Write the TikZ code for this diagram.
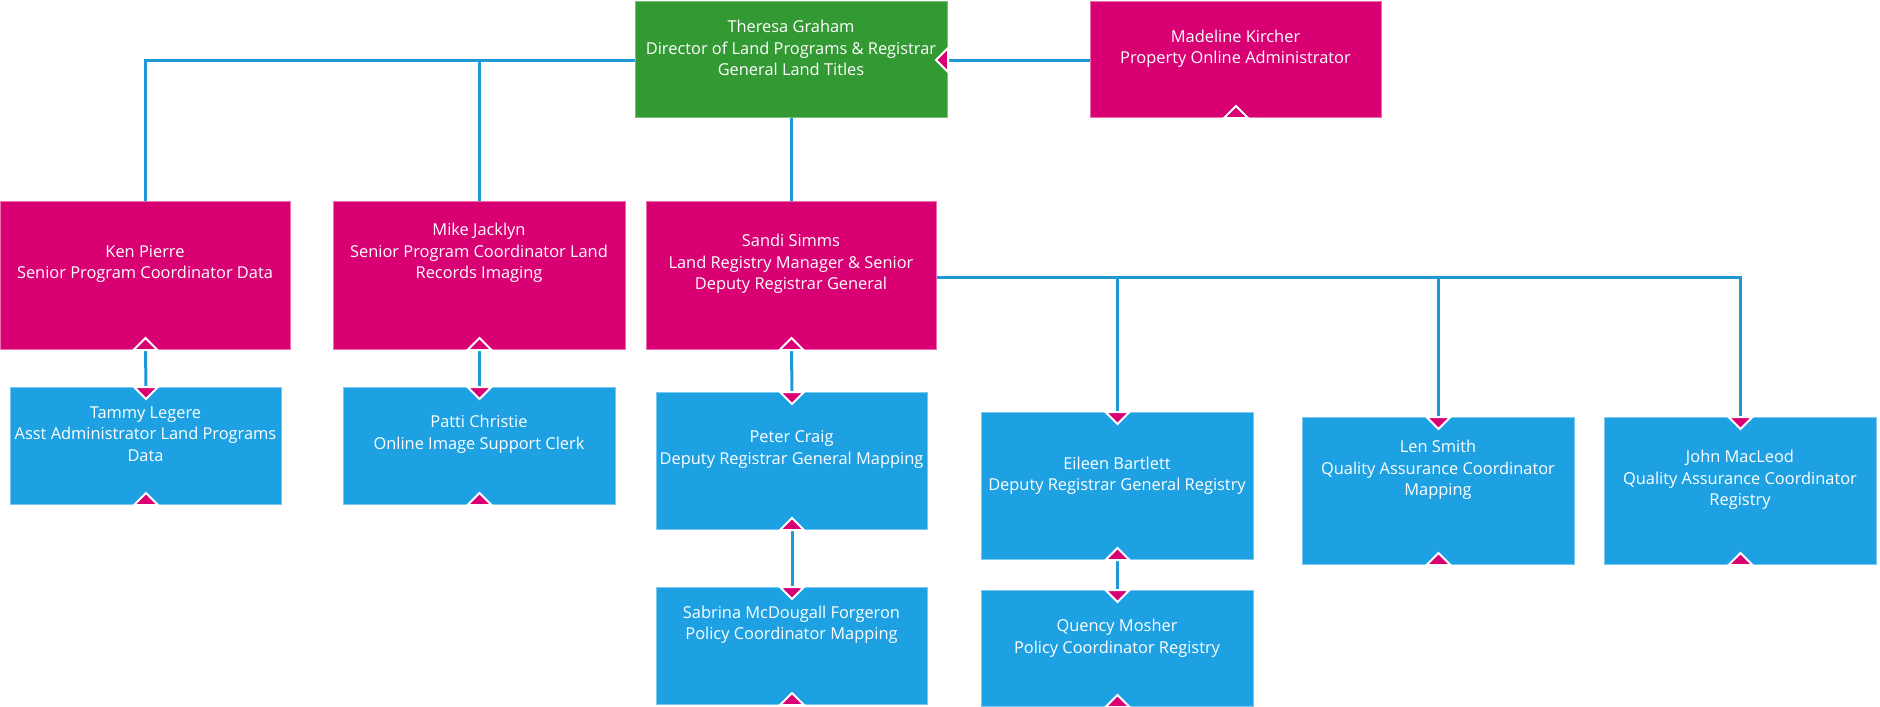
\documentclass[tikz,border=0pt]{standalone}
\usepackage{fontspec}
\setmainfont{Open Sans}
\usetikzlibrary{calc}
\definecolor{cgreen}{RGB}{51,153,51}
\definecolor{cgreenb}{RGB}{120,190,120}
\definecolor{cpink}{RGB}{216,0,115}
\definecolor{cpinkb}{RGB}{236,110,175}
\definecolor{cblue}{RGB}{30,161,226}
\definecolor{cblueb}{RGB}{120,200,240}
\definecolor{cline}{RGB}{30,152,214}
\tikzset{
  box/.style={rectangle, inner sep=0pt, anchor=north west, line width=1pt},
  greenbox/.style={box, fill=cgreen, draw=cgreenb},
  pinkbox/.style={box, fill=cpink, draw=cpinkb},
  bluebox/.style={box, fill=cblue, draw=cblueb},
  txt/.style={text=white, align=center, inner sep=0pt, font=\fontsize{16.4}{21.5}\selectfont},
  conn/.style={draw=cline, line width=3pt},
  marker/.style={fill=cpink, draw=white, line width=2pt, line join=miter},
}
\newcommand\upmark[1]{\filldraw[marker] ($(#1.south)+(-12,0)$) -- ($(#1.south)+(0,-12)$) -- ($(#1.south)+(12,0)$) -- cycle;}
\newcommand\downmark[1]{\filldraw[marker] ($(#1.north)+(-12,0)$) -- ($(#1.north)+(0,12)$) -- ($(#1.north)+(12,0)$) -- cycle;}
\begin{document}
\begin{tikzpicture}[x=1pt,y=-1pt]
\useasboundingbox (0,0) rectangle (1880,707);
% boxes
\node[greenbox, minimum width=312, minimum height=116] (th) at (635,1) {};
\node[pinkbox, minimum width=291, minimum height=116] (ma) at (1090,1) {};
\node[pinkbox, minimum width=290, minimum height=148] (ke) at (0,201) {};
\node[pinkbox, minimum width=292, minimum height=148] (mi) at (333,201) {};
\node[pinkbox, minimum width=290, minimum height=148] (sa) at (646,201) {};
\node[bluebox, minimum width=271, minimum height=117] (ta) at (10,387) {};
\node[bluebox, minimum width=272, minimum height=117] (pa) at (343,387) {};
\node[bluebox, minimum width=271, minimum height=137] (pe) at (656,392) {};
\node[bluebox, minimum width=271, minimum height=117] (sb) at (656,587) {};
\node[bluebox, minimum width=272, minimum height=147] (ei) at (981,412) {};
\node[bluebox, minimum width=272, minimum height=116] (qu) at (981,590) {};
\node[bluebox, minimum width=272, minimum height=147] (le) at (1302,417) {};
\node[bluebox, minimum width=272, minimum height=147] (jo) at (1604,417) {};
% texts
\node[txt] (th-t) at (791,48) {Theresa Graham\\Director of Land Programs \& Registrar\\General Land Titles};
\node[txt] (ma-t) at (1235.5,48.5) {Madeline Kircher\\Property Online Administrator};
\node[txt] (ke-t) at (145,264) {Ken Pierre\\Senior Program Coordinator Data};
\node[txt] (mi-t) at (479,253) {Mike Jacklyn\\Senior Program Coordinator Land\\Records Imaging};
\node[txt] (sa-t) at (791,264) {Sandi Simms\\Land Registry Manager \& Senior\\Deputy Registrar General};
\node[txt] (ta-t) at (145.5,434) {Tammy Legere\\Asst Administrator Land Programs\\Data};
\node[txt] (pa-t) at (479,434) {Patti Christie\\Online Image Support Clerk};
\node[txt] (pe-t) at (791.5,449.5) {Peter Craig\\Deputy Registrar General Mapping};
\node[txt] (sb-t) at (791.5,624.5) {Sabrina McDougall Forgeron\\Policy Coordinator Mapping};
\node[txt] (ei-t) at (1117,475.5) {Eileen Bartlett\\Deputy Registrar General Registry};
\node[txt] (qu-t) at (1117,638) {Quency Mosher\\Policy Coordinator Registry};
\node[txt] (le-t) at (1438,470) {Len Smith\\Quality Assurance Coordinator\\Mapping};
\node[txt] (jo-t) at (1740,480) {John MacLeod\\Quality Assurance Coordinator\\Registry};
% connectors
\coordinate (topbus) at (th.west |- 0,60);
\draw[conn] (ke.north) -- (ke.north |- topbus) -- (topbus);
\draw[conn] (mi.north) -- (mi.north |- topbus);
\draw[conn] (th.south) -- (sa.north);
\draw[conn] (ma.west |- topbus) -- (th.east |- topbus);
\coordinate (sabus) at (sa.east |- 0,277);
\draw[conn] (sabus) -- (sabus -| jo.north) -- (jo.north);
\draw[conn] (ei.north |- sabus) -- (ei.north);
\draw[conn] (le.north |- sabus) -- (le.north);
\draw[conn] (ke.south) -- (ta.north);
\draw[conn] (mi.south) -- (pa.north);
\draw[conn] (sa.south) -- (pe.north);
\draw[conn] (pe.south) -- (sb.north);
\draw[conn] (ei.south) -- (qu.north);
% markers
\foreach \n in {ma,ke,mi,sa,ta,pa,pe,sb,ei,qu,le,jo} {\upmark{\n}}
\foreach \n in {ta,pa,pe,sb,ei,qu,le,jo} {\downmark{\n}}
\filldraw[marker] ($(th.east |- topbus)+(0,-12)$) -- ($(th.east |- topbus)+(-12,0)$) -- ($(th.east |- topbus)+(0,12)$) -- cycle;
\end{tikzpicture}
\end{document}
